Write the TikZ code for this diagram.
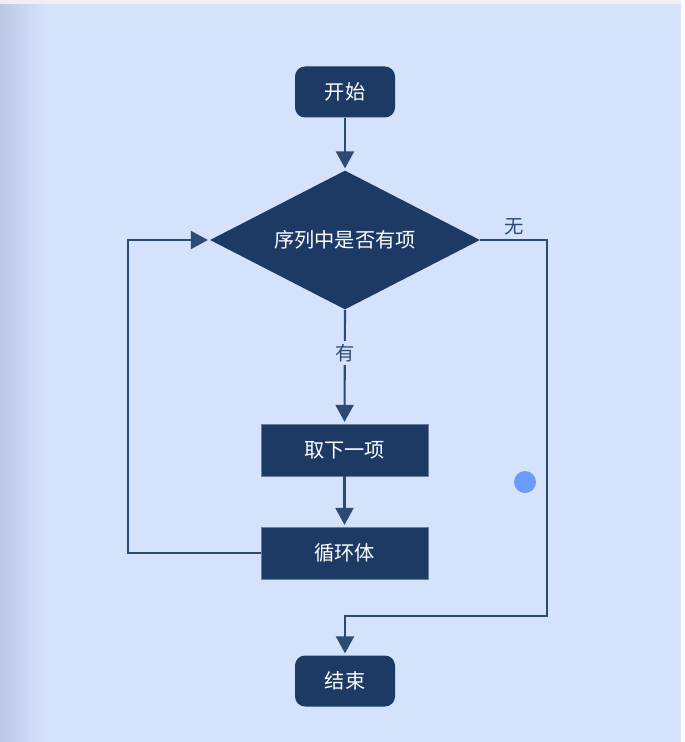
\documentclass[tikz,border=0pt]{standalone}
\usepackage{fontspec}
\setmainfont{Noto Sans CJK SC}
\usepackage{xcolor}
\usepackage{tikz}
\usetikzlibrary{shapes.geometric, arrows.meta, calc}

\definecolor{pagebg}{HTML}{D5E2FC}
\definecolor{pageedge}{HTML}{BCC8E4}
\definecolor{boxblue}{HTML}{1C3A63}
\definecolor{lineblue}{HTML}{2B4A74}
\definecolor{dotblue}{HTML}{6A9BFF}

\begin{document}
\begin{tikzpicture}[
    startstop/.style={
        rectangle, rounded corners=0.2cm, fill=boxblue,
        minimum width=2cm, minimum height=1.02cm,
        text=white, font=\fontsize{11.5pt}{13pt}\selectfont
    },
    process/.style={
        rectangle, fill=boxblue, draw=lineblue!70, line width=0.4pt,
        minimum width=3.34cm, minimum height=1.04cm,
        text=white, font=\fontsize{11.5pt}{13pt}\selectfont
    },
    decision/.style={
        diamond, aspect=1.94, fill=boxblue, inner sep=0pt,
        minimum width=5.4cm, minimum height=2.78cm,
        text=white, font=\fontsize{11.5pt}{13pt}\selectfont
    },
    flow/.style={-{Triangle[length=0.34cm, width=0.36cm]}, draw=lineblue, line width=1.2pt, shorten >=1pt},
    branch/.style={font=\fontsize{11pt}{13pt}\selectfont, text=lineblue}
]

% 0. Background (fixes the picture size)
\fill[pagebg] (0, 0) rectangle (13.68, -14.84);
\shade[left color=pageedge, right color=pagebg] (0, 0) rectangle (0.9, -14.84);
\fill[gray!12] (0, 0) rectangle (13.68, -0.08);
\fill[white!96!pagebg] (13.62, 0) rectangle (13.68, -14.84);
\useasboundingbox (0, 0) rectangle (13.68, -14.84);

% 1. Start and the test
\node[startstop] (start) at (6.9, -1.84) {开始};
\node[decision] (cond) at (6.9, -4.8) {序列中是否有项};

% 2. Loop body
\node[process] (take) at (6.89, -9.0) {取下一项};
\node[process] (body) at (6.89, -11.06) {循环体};

% 3. End
\node[startstop] (stop) at (6.9, -13.62) {结束};

% 4. Marker dot
\node[circle, fill=dotblue, inner sep=0pt, minimum size=0.44cm] (dot) at (10.5, -9.64) {};

% 5. Relationships
\coordinate (turn) at (10.94, -12.32);
\draw[flow] (start.south) -- (cond.north);
\draw[flow] (cond.south) -- node[branch, fill=pagebg, pos=0.38, inner sep=2pt] {有} (take.north);
\draw[flow] (take.south) -- (body.north);
\draw[flow] (body.west) -- ++(-2.66, 0) |- (cond.west);
\draw[flow] (cond.east) -| node[branch, above, pos=0.25, yshift=-1pt] {无} (turn) -| (stop.north);

\end{tikzpicture}
\end{document}
